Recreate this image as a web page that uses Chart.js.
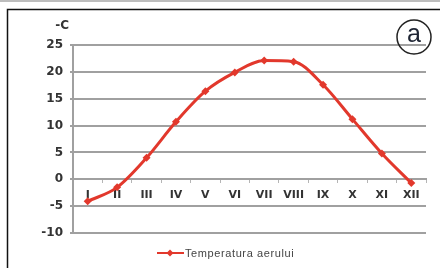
<!DOCTYPE html>
<html>
<head>
<meta charset="utf-8">
<script src="https://cdn.jsdelivr.net/npm/chart.js@4/dist/chart.umd.min.js"></script>
<style>
  html, body { margin: 0; padding: 0; background: #fff; }
  #wrap { width: 440px; height: 268px; position: relative; }
</style>
</head>
<body>
<div id="wrap"><canvas id="tempChart" width="440" height="268"></canvas></div>
<script>
// date
const months = ['I', 'II', 'III', 'IV', 'V', 'VI', 'VII', 'VIII', 'IX', 'X', 'XI', 'XII'];
const temperature = [-4.1, -1.5, 4, 10.7, 16.4, 19.9, 22.1, 21.9, 17.6, 11.2, 4.8, -0.7];
const yTicks = [-10, -5, 0, 5, 10, 15, 20, 25];
const seriesLabel = 'Temperatura aerului';
const unitLabel = '-C';
const panelLetter = 'a';

const RED = '#e2382c';
const GRID = '#a0a0a0';
const LABEL_FONT = '"DejaVu Sans", Verdana, sans-serif';

// desen pentru cadru, unitate, legenda si litera
const decor = {
    id: 'decor',
    beforeDraw(chart) {
        const ctx = chart.ctx;
        ctx.save();
        ctx.fillStyle = '#fff';
        ctx.fillRect(0, 0, chart.width, chart.height);
        ctx.fillStyle = '#bdbdbd';
        ctx.fillRect(0, 0, chart.width, 2);
        ctx.strokeStyle = '#111';
        ctx.lineWidth = 1.5;
        ctx.beginPath();
        ctx.moveTo(7.5, chart.height);
        ctx.lineTo(7.5, 9.5);
        ctx.lineTo(chart.width, 9.5);
        ctx.stroke();
        ctx.restore();
    },
    afterDraw(chart) {
        const ctx = chart.ctx;
        ctx.save();
        // unitate
        ctx.fillStyle = '#333';
        ctx.font = 'bold 12px ' + LABEL_FONT;
        ctx.textAlign = 'right';
        ctx.textBaseline = 'middle';
        ctx.fillText(unitLabel, 69, 26);

        // legenda
        const ly = 253;
        ctx.strokeStyle = RED;
        ctx.lineWidth = 2;
        ctx.beginPath();
        ctx.moveTo(157, ly);
        ctx.lineTo(184, ly);
        ctx.stroke();
        ctx.fillStyle = RED;
        ctx.beginPath();
        ctx.moveTo(170, ly - 3.5);
        ctx.lineTo(173.5, ly);
        ctx.lineTo(170, ly + 3.5);
        ctx.lineTo(166.5, ly);
        ctx.closePath();
        ctx.fill();
        ctx.fillStyle = '#444';
        ctx.font = '11px "Liberation Sans", Arial, sans-serif';
        ctx.letterSpacing = '0.6px';
        ctx.textAlign = 'left';
        ctx.fillText(seriesLabel, 185, ly + 1);
        ctx.letterSpacing = '0px';

        // litera in cerc
        ctx.strokeStyle = '#222';
        ctx.lineWidth = 1.5;
        ctx.beginPath();
        ctx.arc(414, 37, 17, 0, Math.PI * 2);
        ctx.stroke();
        ctx.fillStyle = '#1e2433';
        ctx.font = '25px "Liberation Sans", Arial, sans-serif';
        ctx.textAlign = 'center';
        ctx.fillText(panelLetter, 414, 35);
        ctx.restore();
    }
};

const ctx = document.getElementById('tempChart').getContext('2d');
const tempChart = new Chart(ctx, {
    type: 'line',
    data: {
        labels: months,
        datasets: [{
            label: seriesLabel,
            data: temperature,
            borderColor: RED,
            backgroundColor: RED,
            borderWidth: 3,
            pointStyle: 'rectRot',
            pointRadius: 4,
            pointBorderWidth: 0,
            cubicInterpolationMode: 'monotone'
        }]
    },
    options: {
        responsive: false,
        animation: false,
        layout: {
            padding: { left: 0, top: 45, right: 14, bottom: 35 }
        },
        plugins: {
            legend: { display: false },
            tooltip: { enabled: false }
        },
        scales: {
            x: {
                type: 'category',
                position: { y: 0 },
                offset: true,
                grid: {
                    offset: true,
                    drawOnChartArea: false,
                    drawTicks: true,
                    tickLength: 3,
                    color: '#b5b5b5',
                    lineWidth: 1
                },
                border: { display: true, color: GRID, width: 2 },
                ticks: {
                    color: '#333',
                    padding: 6,
                    maxRotation: 0,
                    autoSkip: false,
                    font: { family: LABEL_FONT, size: 11, weight: 'bold' }
                }
            },
            y: {
                min: -10,
                max: 25,
                afterBuildTicks(scale) {
                    scale.ticks = yTicks.map(v => ({ value: v }));
                },
                afterFit(scale) {
                    scale.width = 73;
                },
                grid: {
                    color: GRID,
                    lineWidth: 2,
                    drawTicks: true,
                    tickLength: 3
                },
                border: { display: true, color: GRID, width: 2 },
                ticks: {
                    color: '#333',
                    padding: 7,
                    font: { family: LABEL_FONT, size: 12, weight: 'bold' }
                }
            }
        }
    },
    plugins: [decor]
});
</script>
</body>
</html>
